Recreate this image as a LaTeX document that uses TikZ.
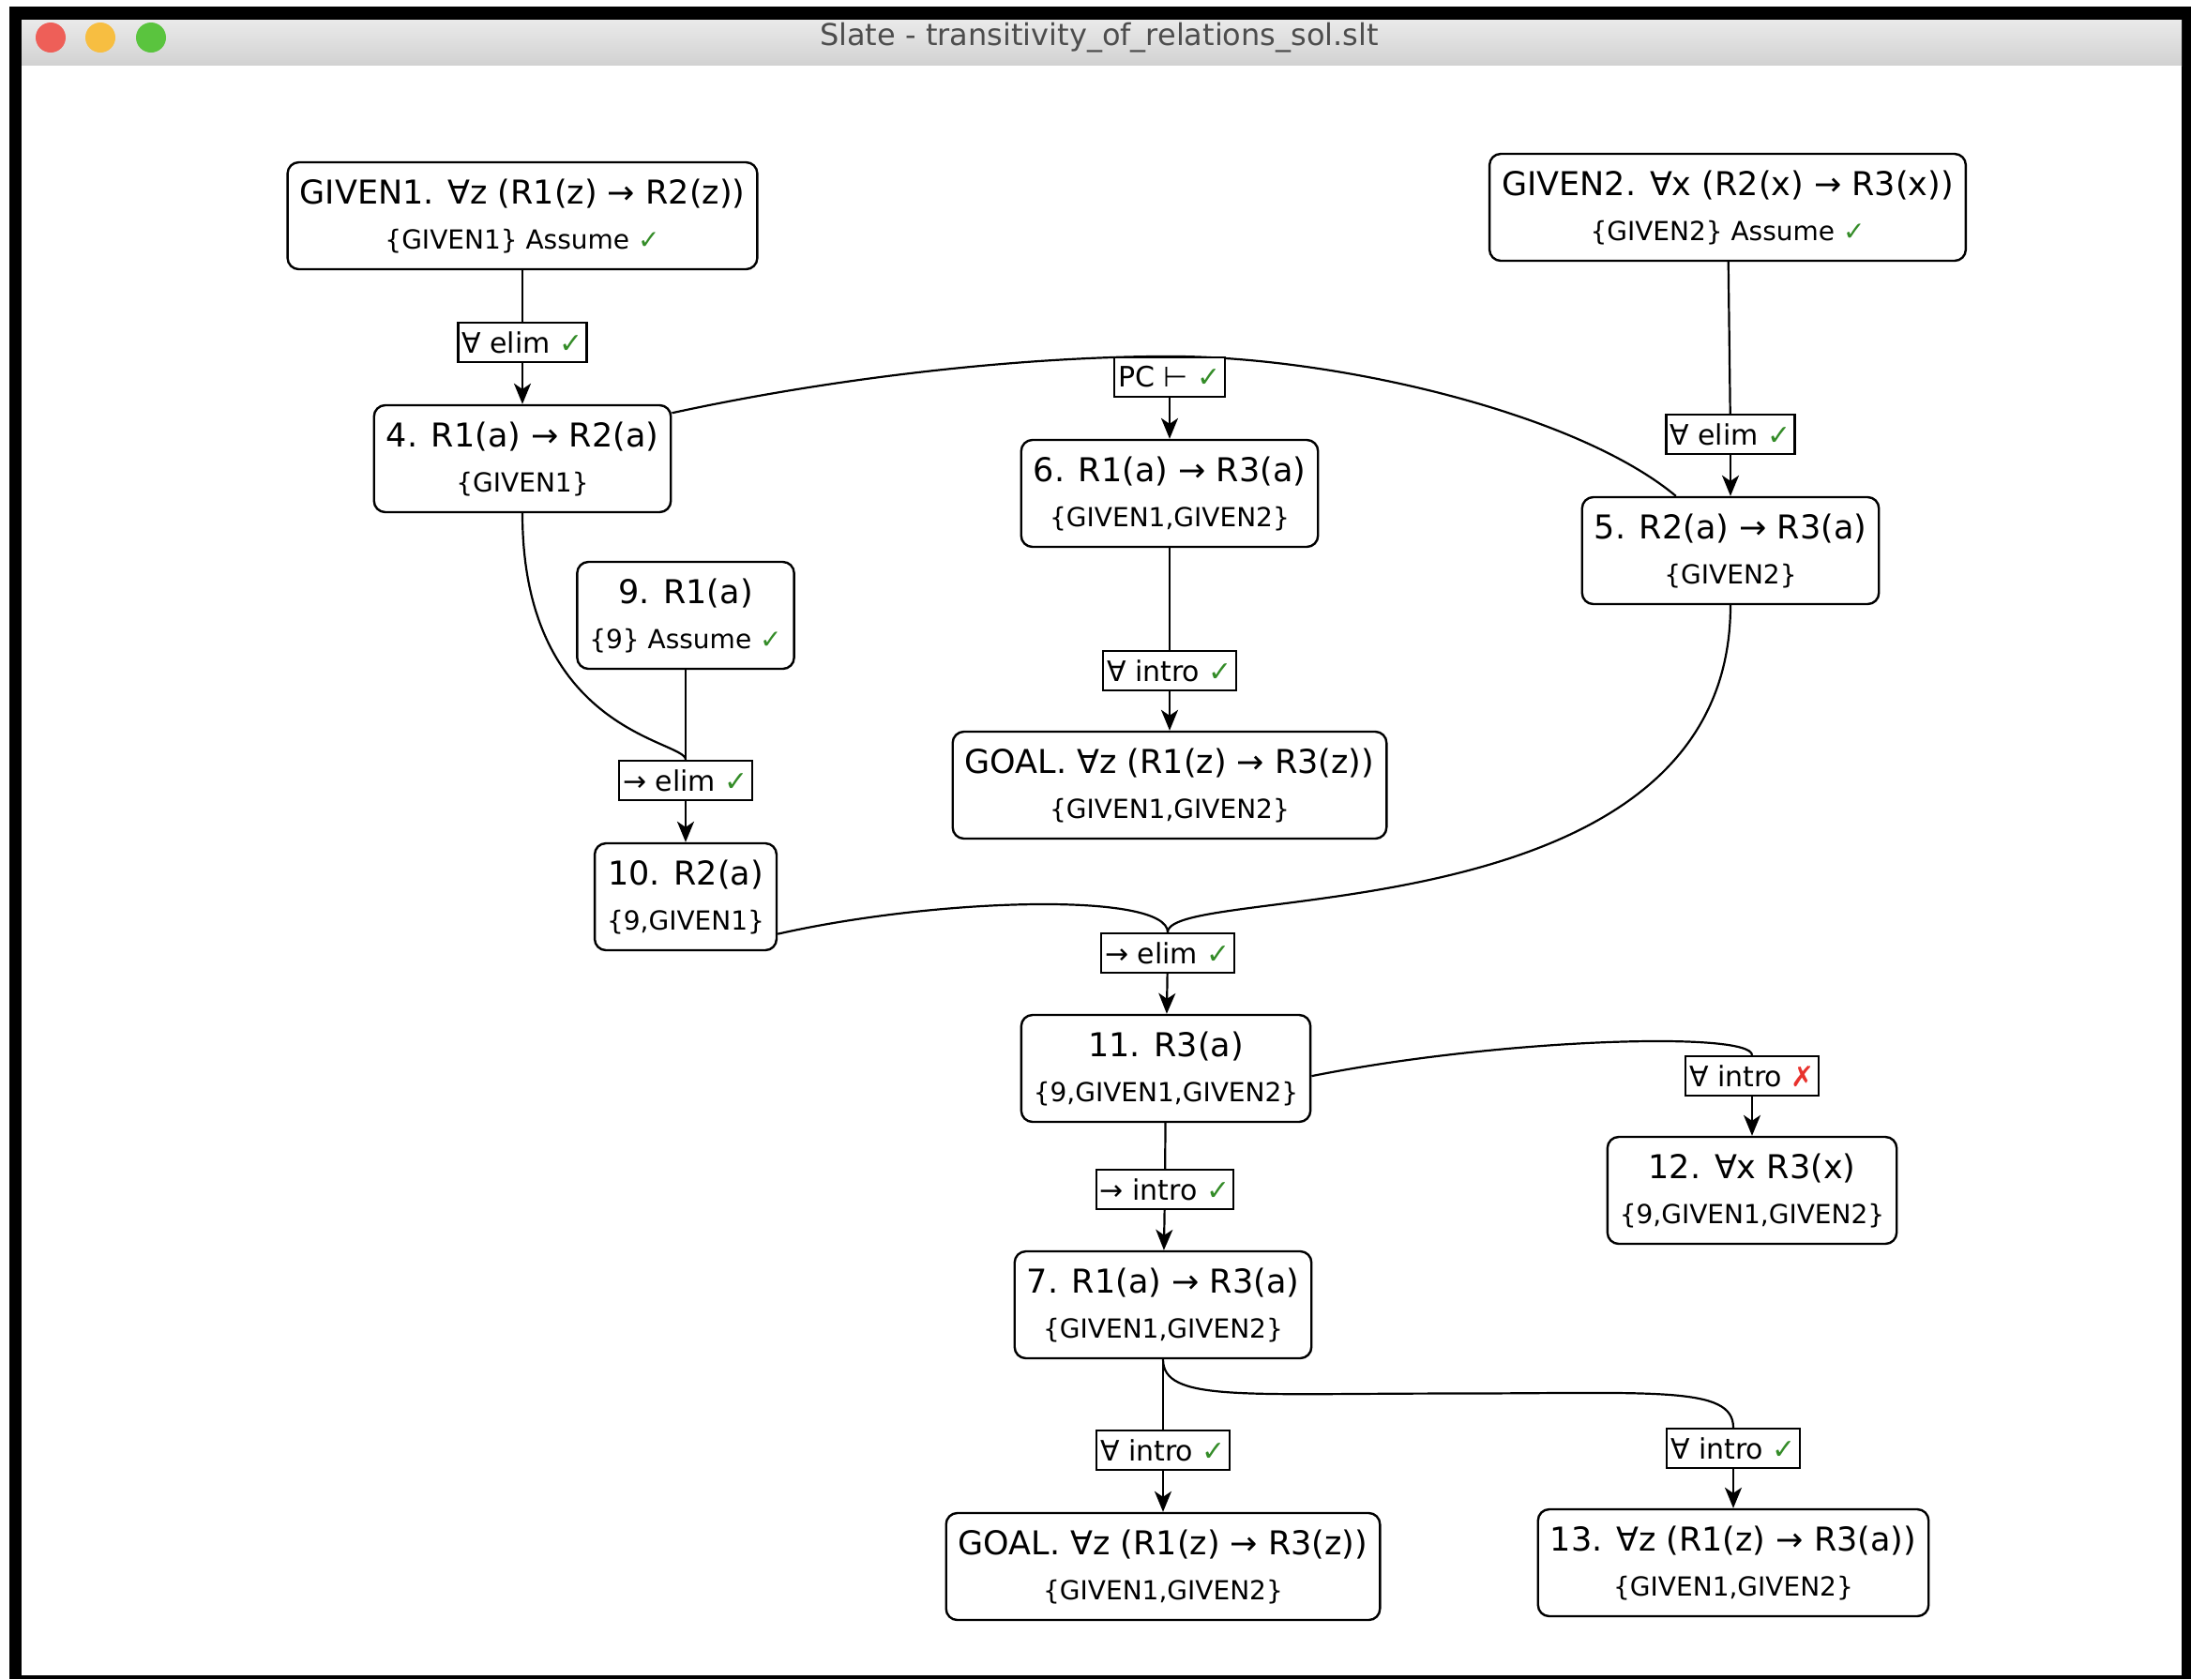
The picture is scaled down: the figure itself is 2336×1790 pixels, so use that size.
\documentclass[tikz,border=0pt]{standalone}
\usepackage{fontspec}
\setmainfont{DejaVu Sans}
\usetikzlibrary{arrows.meta,calc}

\definecolor{okgreen}{RGB}{52,140,40}
\definecolor{badred}{RGB}{232,50,45}
\definecolor{barTop}{RGB}{234,234,234}
\definecolor{barBottom}{RGB}{209,209,209}
\definecolor{closeRed}{RGB}{238,95,88}
\definecolor{minYellow}{RGB}{247,190,65}
\definecolor{zoomGreen}{RGB}{90,196,62}
\definecolor{titleGray}{RGB}{77,77,77}

\newcommand{\okmark}{{\color{okgreen}✓}}
\newcommand{\badmark}{{\color{badred}✗}}
\newcommand{\head}[1]{{\fontsize{17.5}{24}\selectfont #1}}

\pgfdeclarelayer{frame}
\pgfdeclarelayer{links}
\pgfsetlayers{frame,links,main}

\tikzset {
    style step/.style={
        draw=black,
        fill=white,
        line width=1.2pt,
        rectangle, % proof line
        rounded corners=6pt,
        inner xsep=6.5pt,
        minimum height=57pt,
        align=center,
        font=\fontsize{14}{24}\selectfont,
    },
    style rule/.style={
        draw=black,
        fill=white,
        line width=1.1pt,
        rectangle, % inference rule
        inner xsep=2pt,
        inner ysep=0pt,
        minimum height=21pt,
        font=\fontsize{15}{18}\selectfont,
    },
    style link/.style={
        draw=black,
        line width=1.1pt,
    },
}

\begin{document}
\begin{tikzpicture}
[x=0.5pt, y=-0.5pt, >={Stealth[length=11pt,width=9pt,inset=3pt]}]
\useasboundingbox (0,0) rectangle (2336,1790);

% window
\begin{pgfonlayer}{frame}
\fill[white] (0,0) rectangle (2336,1790);
\fill[black] (10,7) rectangle (2336,1790);
\shade[top color=barTop, bottom color=barBottom] (23,21) rectangle (2326,70);
\fill[white] (23,70) rectangle (2326,1786);
\fill[closeRed] (54,40) circle[radius=8pt];
\fill[minYellow] (107,40) circle[radius=8pt];
\fill[zoomGreen] (161,40) circle[radius=8pt];
\end{pgfonlayer}
\node[text=titleGray, font=\fontsize{16}{18}\selectfont] (title) at (1172,40) {Slate - transitivity\_of\_relations\_sol.slt};

% proof lines
\node[style step] (given1) at (557,230) {\head{GIVEN1. ∀z (R1(z) → R2(z))}\\\{GIVEN1\} Assume \okmark};
\node[style step] (given2) at (1842,221) {\head{GIVEN2. ∀x (R2(x) → R3(x))}\\\{GIVEN2\} Assume \okmark};
\node[style step] (line4) at (557,489) {\head{4. R1(a) → R2(a)}\\\{GIVEN1\}};
\node[style step] (line6) at (1247,526) {\head{6. R1(a) → R3(a)}\\\{GIVEN1,GIVEN2\}};
\node[style step] (line5) at (1845,587) {\head{5. R2(a) → R3(a)}\\\{GIVEN2\}};
\node[style step] (line9) at (731,656) {\head{9. R1(a)}\\\{9\} Assume \okmark};
\node[style step] (goal1) at (1247,837) {\head{GOAL. ∀z (R1(z) → R3(z))}\\\{GIVEN1,GIVEN2\}};
\node[style step] (line10) at (731,956) {\head{10. R2(a)}\\\{9,GIVEN1\}};
\node[style step] (line11) at (1243,1139) {\head{11. R3(a)}\\\{9,GIVEN1,GIVEN2\}};
\node[style step] (line12) at (1868,1269) {\head{12. ∀x R3(x)}\\\{9,GIVEN1,GIVEN2\}};
\node[style step] (line7) at (1240,1391) {\head{7. R1(a) → R3(a)}\\\{GIVEN1,GIVEN2\}};
\node[style step] (goal2) at (1240,1670) {\head{GOAL. ∀z (R1(z) → R3(z))}\\\{GIVEN1,GIVEN2\}};
\node[style step] (line13) at (1848,1666) {\head{13. ∀z (R1(z) → R3(a))}\\\{GIVEN1,GIVEN2\}};

% rules
\node[style rule] (elim4) at (557,365) {∀ elim \okmark};
\node[style rule] (pc6) at (1247,402) {PC ⊢ \okmark};
\node[style rule] (elim5) at (1845,463) {∀ elim \okmark};
\node[style rule] (intro1) at (1247,715) {∀ intro \okmark};
\node[style rule] (elim10) at (731,832) {→ elim \okmark};
\node[style rule] (elim11) at (1245,1016) {→ elim \okmark};
\node[style rule] (intro12) at (1868,1147) {∀ intro \badmark};
\node[style rule] (intro7) at (1242,1268) {→ intro \okmark};
\node[style rule] (intro2) at (1240,1546) {∀ intro \okmark};
\node[style rule] (intro13) at (1848,1544) {∀ intro \okmark};

\begin{pgfonlayer}{links}
\begin{scope}[style link]
\draw (given1) -- (elim4);
\draw[->] (elim4) -- (line4);
\draw (line4.17) .. controls +(184,-40) and +(-147,0) .. (pc6.north);
\draw (line5.135) .. controls +(-108,-90) and +(173,0) .. (pc6.north);
\draw[->] (pc6) -- (line6);
\draw (given2) -- (elim5);
\draw[->] (elim5) -- (line5);
\draw (line6) -- (intro1);
\draw[->] (intro1) -- (goal1);
\draw (line4.south) .. controls +(0,235) and +(0,-21) .. (elim10.north);
\draw (line9) -- (elim10);
\draw[->] (elim10) -- (line10);
\draw (line10.-22) .. controls +(173,-39) and +(0,-43) .. (elim11.north);
\draw (line5.south) .. controls +(0,356) and +(0,-53) .. (elim11.north);
\draw[->] (elim11) -- (line11);
\draw (line11.-3) .. controls +(200,-40) and +(0,-26) .. (intro12.north);
\draw[->] (intro12) -- (line12);
\draw (line11) -- (intro7);
\draw[->] (intro7) -- (line7);
\draw (line7) -- (intro2);
\draw[->] (intro2) -- (goal2);
\draw (line7.south) .. controls +(0,45) and +(-220,0) .. ($(line7.south)!.5!(intro13.north)$) .. controls +(220,0) and +(0,-45) .. (intro13.north);
\draw[->] (intro13) -- (line13);
\end{scope}
\end{pgfonlayer}
\end{tikzpicture}
\end{document}
